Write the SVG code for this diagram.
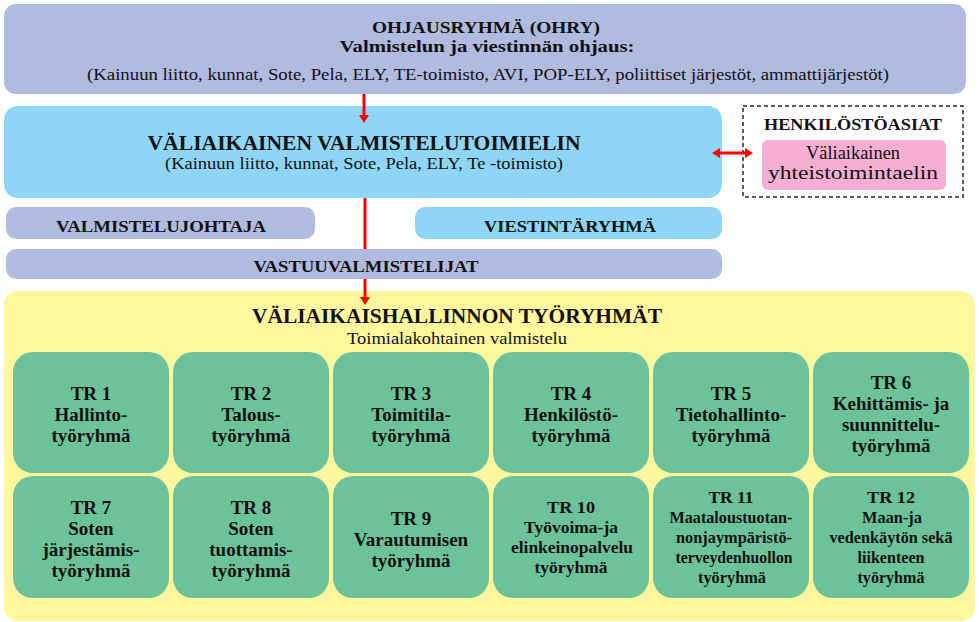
<svg xmlns="http://www.w3.org/2000/svg" width="979" height="622" viewBox="0 0 979 622">
<defs>
<marker id="ah" viewBox="0 0 8 10" refX="0" refY="5" markerWidth="8" markerHeight="10" markerUnits="userSpaceOnUse" orient="auto-start-reverse">
<path d="M0,0 L8,5 L0,10 z" fill="#ff0000"/>
</marker>
</defs>
<style>
.lav{fill:#b1badf}
.blue{fill:#8ed5f6}
.grn{fill:#6cc39a}
.t{font-family:"Liberation Serif","Times New Roman",serif;fill:#111;text-anchor:middle}
.b{font-weight:bold}
.c{stroke:#ff0000;stroke-width:3;fill:none}
.tr{font-family:"Liberation Serif","Times New Roman",serif;font-weight:bold;font-size:19px;fill:#111;text-anchor:middle}
.trc{font-family:"Liberation Serif","Times New Roman",serif;font-weight:bold;font-size:17px;fill:#111;text-anchor:middle}
</style>
<rect width="979" height="622" fill="#ffffff"/>

<g id="ohry">
<rect class="lav" x="4" y="4" width="962" height="90" rx="12"/>
<text class="t b" x="486" y="33" font-size="17" textLength="228" lengthAdjust="spacingAndGlyphs">OHJAUSRYHMÄ  (OHRY)</text>
<text class="t b" x="487" y="52" font-size="17" textLength="295" lengthAdjust="spacingAndGlyphs">Valmistelun ja viestinnän ohjaus:</text>
<text class="t" x="488" y="80" font-size="16" textLength="802" lengthAdjust="spacingAndGlyphs">(Kainuun liitto, kunnat, Sote, Pela, ELY, TE-toimisto, AVI, POP-ELY, poliittiset järjestöt, ammattijärjestöt)</text>
</g>

<g id="toimielin">
<rect class="blue" x="4" y="106" width="718" height="92" rx="14"/>
<text class="t b" x="364" y="150" font-size="22" textLength="433" lengthAdjust="spacingAndGlyphs">VÄLIAIKAINEN VALMISTELUTOIMIELIN</text>
<text class="t" x="364" y="169" font-size="16" textLength="398" lengthAdjust="spacingAndGlyphs">(Kainuun liitto, kunnat, Sote, Pela, ELY, Te -toimisto)</text>
</g>

<g id="henkilosto">
<rect x="743" y="106" width="220" height="91" fill="#ffffff" stroke="#222" stroke-width="1.5" stroke-dasharray="4,3"/>
<text class="t b" x="853" y="130" font-size="17" textLength="178" lengthAdjust="spacingAndGlyphs">HENKILÖSTÖASIAT</text>
</g>

<g id="yhteistoimintaelin">
<rect x="762" y="140" width="184" height="50" rx="6" fill="#f6afd3"/>
<text class="t" x="853" y="159" font-size="18" textLength="94" lengthAdjust="spacingAndGlyphs">Väliaikainen</text>
<text class="t" x="853" y="179" font-size="18" textLength="170" lengthAdjust="spacingAndGlyphs">yhteistoimintaelin</text>
</g>

<g id="tyoryhmat">
<rect x="4" y="291" width="971" height="330" rx="14" fill="#fff79e"/>
<text class="t b" x="457" y="323" font-size="21" textLength="410" lengthAdjust="spacingAndGlyphs">VÄLIAIKAISHALLINNON TYÖRYHMÄT</text>
<text class="t" x="457" y="344" font-size="16" textLength="220" lengthAdjust="spacingAndGlyphs">Toimialakohtainen valmistelu</text>
</g>

<g id="connectors">
<line class="c" x1="364" y1="94" x2="364" y2="115" marker-end="url(#ah)"/>
<line class="c" x1="365" y1="198" x2="365" y2="297" marker-end="url(#ah)"/>
<line class="c" x1="720" y1="153" x2="745" y2="153" marker-start="url(#ah)" marker-end="url(#ah)"/>
</g>

<g id="valmistelujohtaja">
<rect class="lav" x="6" y="207" width="309" height="32" rx="10"/>
<text class="t b" x="161" y="232" font-size="17" textLength="210" lengthAdjust="spacingAndGlyphs">VALMISTELUJOHTAJA</text>
</g>

<g id="viestintaryhma">
<rect class="blue" x="415" y="207" width="307" height="32" rx="10"/>
<text class="t b" x="570" y="232" font-size="17" textLength="172" lengthAdjust="spacingAndGlyphs">VIESTINTÄRYHMÄ</text>
</g>

<g id="vastuuvalmistelijat">
<rect class="lav" x="6" y="249" width="716" height="30" rx="10"/>
<text class="t b" x="366" y="272" font-size="17" textLength="225" lengthAdjust="spacingAndGlyphs">VASTUUVALMISTELIJAT</text>
</g>

<g id="tr1">
<rect class="grn" x="13" y="352" width="156" height="121" rx="20"/>
<text class="tr" x="91" y="400">TR 1</text>
<text class="tr" x="91" y="421">Hallinto-</text>
<text class="tr" x="91" y="442">työryhmä</text>
</g>
<g id="tr2">
<rect class="grn" x="173" y="352" width="156" height="121" rx="20"/>
<text class="tr" x="251" y="400">TR 2</text>
<text class="tr" x="251" y="421">Talous-</text>
<text class="tr" x="251" y="442">työryhmä</text>
</g>
<g id="tr3">
<rect class="grn" x="333" y="352" width="156" height="121" rx="20"/>
<text class="tr" x="411" y="400">TR 3</text>
<text class="tr" x="411" y="421">Toimitila-</text>
<text class="tr" x="411" y="442">työryhmä</text>
</g>
<g id="tr4">
<rect class="grn" x="493" y="352" width="156" height="121" rx="20"/>
<text class="tr" x="571" y="400">TR 4</text>
<text class="tr" x="571" y="421">Henkilöstö-</text>
<text class="tr" x="571" y="442">työryhmä</text>
</g>
<g id="tr5">
<rect class="grn" x="653" y="352" width="156" height="121" rx="20"/>
<text class="tr" x="731" y="400">TR 5</text>
<text class="tr" x="731" y="421">Tietohallinto-</text>
<text class="tr" x="731" y="442">työryhmä</text>
</g>
<g id="tr6">
<rect class="grn" x="813" y="352" width="156" height="121" rx="20"/>
<text class="tr" x="891" y="389">TR 6</text>
<text class="tr" x="891" y="410">Kehittämis- ja</text>
<text class="tr" x="891" y="431">suunnittelu-</text>
<text class="tr" x="891" y="452">työryhmä</text>
</g>

<g id="tr7">
<rect class="grn" x="13" y="476" width="156" height="122" rx="20"/>
<text class="tr" x="91" y="514">TR 7</text>
<text class="tr" x="91" y="535">Soten</text>
<text class="tr" x="91" y="556">järjestämis-</text>
<text class="tr" x="91" y="577">työryhmä</text>
</g>
<g id="tr8">
<rect class="grn" x="173" y="476" width="156" height="122" rx="20"/>
<text class="tr" x="251" y="514">TR 8</text>
<text class="tr" x="251" y="535">Soten</text>
<text class="tr" x="251" y="556">tuottamis-</text>
<text class="tr" x="251" y="577">työryhmä</text>
</g>
<g id="tr9">
<rect class="grn" x="333" y="476" width="156" height="122" rx="20"/>
<text class="tr" x="411" y="525">TR 9</text>
<text class="tr" x="411" y="546">Varautumisen</text>
<text class="tr" x="411" y="567">työryhmä</text>
</g>
<g id="tr10">
<rect class="grn" x="493" y="476" width="156" height="122" rx="20"/>
<text class="trc" x="571" y="513" textLength="48" lengthAdjust="spacingAndGlyphs">TR 10</text>
<text class="trc" x="571" y="533" textLength="94" lengthAdjust="spacingAndGlyphs">Työvoima-ja</text>
<text class="trc" x="572" y="553" textLength="122" lengthAdjust="spacingAndGlyphs">elinkeinopalvelu</text>
<text class="trc" x="571" y="573" textLength="73" lengthAdjust="spacingAndGlyphs">työryhmä</text>
</g>
<g id="tr11">
<rect class="grn" x="653" y="476" width="156" height="122" rx="20"/>
<text class="trc" x="731" y="503" textLength="45" lengthAdjust="spacingAndGlyphs">TR 11</text>
<text class="trc" x="731" y="523" textLength="123" lengthAdjust="spacingAndGlyphs">Maataloustuotan-</text>
<text class="trc" x="734" y="543" textLength="116" lengthAdjust="spacingAndGlyphs">nonjaympäristö-</text>
<text class="trc" x="734" y="563" textLength="117" lengthAdjust="spacingAndGlyphs">terveydenhuollon</text>
<text class="trc" x="732" y="583" textLength="68" lengthAdjust="spacingAndGlyphs">työryhmä</text>
</g>
<g id="tr12">
<rect class="grn" x="813" y="476" width="156" height="122" rx="20"/>
<text class="trc" x="891" y="503" textLength="48" lengthAdjust="spacingAndGlyphs">TR 12</text>
<text class="trc" x="892" y="523" textLength="60" lengthAdjust="spacingAndGlyphs">Maan-ja</text>
<text class="trc" x="891" y="543" textLength="123" lengthAdjust="spacingAndGlyphs">vedenkäytön sekä</text>
<text class="trc" x="891" y="563" textLength="67" lengthAdjust="spacingAndGlyphs">liikenteen</text>
<text class="trc" x="891" y="583" textLength="67" lengthAdjust="spacingAndGlyphs">työryhmä</text>
</g>
</svg>
